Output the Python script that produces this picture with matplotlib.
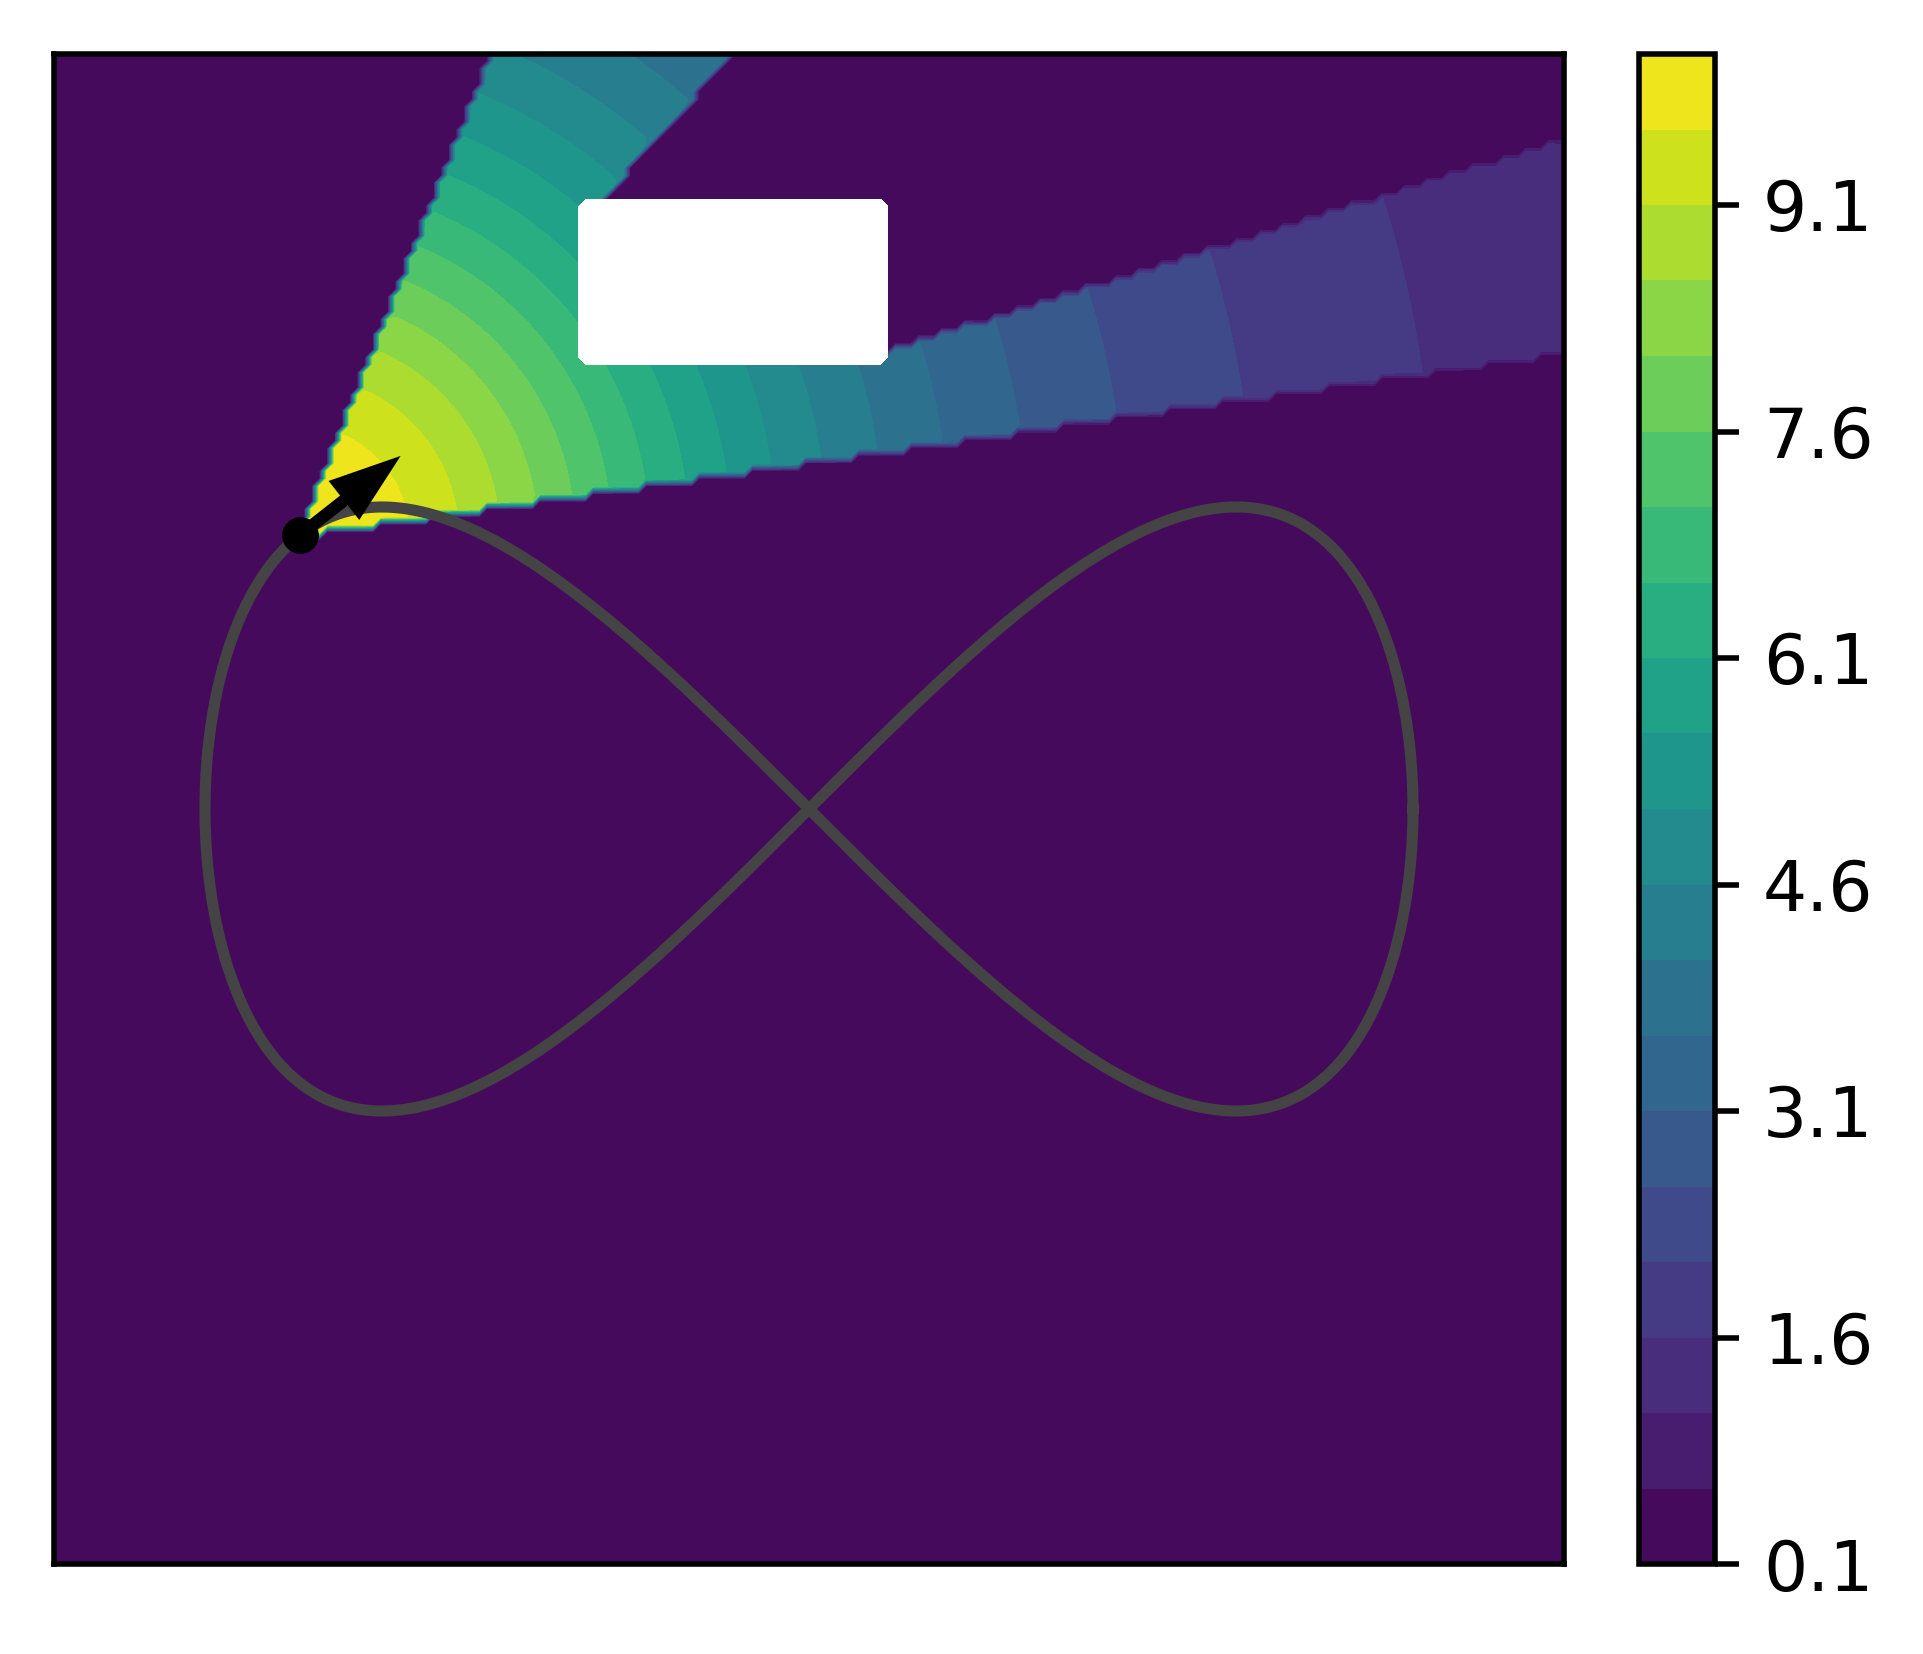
import numpy as np
import matplotlib
matplotlib.use("Agg")
import matplotlib.pyplot as plt

# ---- data / parameters ----
levels = np.linspace(0.1, 10.1, 21)            # contour levels
cbar_ticks = levels[::3]                        # 0.1, 1.6, ..., 9.1
cbar_ticklabels = ["0.1", "1.6", "3.1", "4.6", "6.1", "7.6", "9.1"]

xlim = [-1.25, 1.25]
ylim = [-1.25, 1.25]
n_grid = 200

t_agent = 3.709                 # parameter of the agent on the figure-8 path
fov_deg = 60.0                  # sensor field of view
peak_value = 10.0
background_value = 0.1
decay_scale = 0.789             # value = bg + peak / (1 + (d/scale)^2)
obstacle_x = [-0.38, 0.13]      # blanked obstacle
obstacle_y = [0.738, 1.008]
occluder_x = [-0.36, 0.12]      # part of the obstacle that casts the shadow
occluder_y = [0.755, 0.99]
arrow_len = 0.195

# ---- field ----
xs = np.linspace(xlim[0], xlim[1], n_grid)
ys = np.linspace(ylim[0], ylim[1], n_grid)
X, Y = np.meshgrid(xs, ys)

ax0 = np.cos(t_agent)
ay0 = np.sin(t_agent) * np.cos(t_agent)
hx, hy = -np.sin(t_agent), np.cos(2 * t_agent)
heading = np.arctan2(hy, hx)

DX = X - ax0
DY = Y - ay0
D = np.hypot(DX, DY)
ang = np.arctan2(DY, DX)
dang = np.abs((ang - heading + np.pi) % (2 * np.pi) - np.pi)
in_fov = dang <= np.deg2rad(fov_deg / 2)

# occlusion: segment agent->P intersects the occluder
with np.errstate(divide="ignore", invalid="ignore"):
    tx1 = (occluder_x[0] - ax0) / DX
    tx2 = (occluder_x[1] - ax0) / DX
    ty1 = (occluder_y[0] - ay0) / DY
    ty2 = (occluder_y[1] - ay0) / DY
tminx = np.where(DX != 0, np.minimum(tx1, tx2), -np.inf)
tmaxx = np.where(DX != 0, np.maximum(tx1, tx2), np.inf)
tminy = np.where(DY != 0, np.minimum(ty1, ty2), -np.inf)
tmaxy = np.where(DY != 0, np.maximum(ty1, ty2), np.inf)
tenter = np.maximum(tminx, tminy)
texit = np.minimum(tmaxx, tmaxy)
occluded = (tenter <= texit) & (texit >= 0) & (tenter <= 1)

Z = np.full_like(X, background_value)
vis = in_fov & ~occluded
Z[vis] = background_value + peak_value / (1 + (D[vis] / decay_scale) ** 2)
inside = ((X >= obstacle_x[0]) & (X <= obstacle_x[1]) &
          (Y >= obstacle_y[0]) & (Y <= obstacle_y[1]))
Z = np.ma.masked_where(inside, Z)

# ---- path ----
tt = np.linspace(0, 2 * np.pi, 600)
px = np.cos(tt)
py = np.sin(tt) * np.cos(tt)

# ---- figure ----
W, H = 1923, 1654
dpi = 500
fig = plt.figure(figsize=(W / dpi, H / dpi), dpi=dpi)
ax = fig.add_axes([54 / W, 1 - 1564 / H, 1510 / W, 1510 / H])
cax = fig.add_axes([1639 / W, 1 - 1564 / H, 75.5 / W, 1510 / H])

cs = ax.contourf(X, Y, Z, levels=levels, cmap="viridis")
ax.plot(px, py, color="#444444", lw=1.6, zorder=3)
ax.plot([ax0], [ay0], "o", color="k", ms=5.3, mew=0, zorder=5)
ax.arrow(ax0, ay0, arrow_len * np.cos(heading), arrow_len * np.sin(heading),
         width=0.009, head_width=0.066, head_length=0.096,
         length_includes_head=True, color="k", zorder=6)
ax.set_xlim(xlim)
ax.set_ylim(ylim)
ax.set_xticks([])
ax.set_yticks([])

cb = fig.colorbar(cs, cax=cax)
cb.set_ticks(cbar_ticks)
cb.set_ticklabels(cbar_ticklabels)

fig.savefig("out.png", dpi=dpi)
